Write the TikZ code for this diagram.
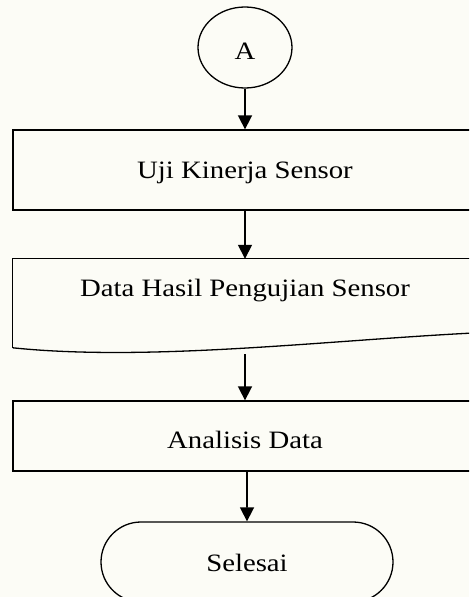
\documentclass[tikz,border=0pt]{standalone}
\usepackage{fontspec}
\setmainfont{Liberation Serif}
\usepackage{graphicx}
\usetikzlibrary{arrows.meta,shapes.geometric,shapes.misc}
\definecolor{bgc}{RGB}{252,252,246}
\newcommand{\sx}[1]{\scalebox{1.15}[1]{#1}}
\begin{document}
\begin{tikzpicture}[x=1pt,y=-1pt,
  lbl/.style={font=\fontsize{25}{30}\selectfont, text=black},
  tpos/.style={text height=#1, text depth=0pt},
  shp/.style={draw, line width=1.3pt, inner sep=0pt},
  proc/.style={shp, rectangle, minimum width=464pt},
  arr/.style={-{Triangle[length=14pt,width=14pt]}, line width=1.6pt},
]
\useasboundingbox (0,0) rectangle (469,597);
\fill[bgc] (0,0) rectangle (469,597);
\clip (0,0) rectangle (469,597);

\node[shp, ellipse, minimum width=94pt, minimum height=81pt, lbl, tpos=24pt] (A) at (245,47.5) {\sx{A}};
\node[proc, minimum height=80pt, lbl, tpos=17pt] (uji) at (245,170) {\sx{Uji Kinerja Sensor}};
\node[rectangle, inner sep=0pt, minimum width=464pt, minimum height=58pt, lbl, tpos=17pt] (doc) at (245,288) {\sx{Data Hasil Pengujian Sensor}};
\draw[line width=1.3pt] (doc.north west) ++(0,89) coordinate (dl)
  -- (doc.north west) -- (doc.north east) -- ++(0,74) coordinate (dr);
\draw[line width=1.3pt] (dl) .. controls (150,362) and (330,340) .. (dr);
\coordinate (docb) at (245,354);
\node[proc, minimum height=70pt, lbl, tpos=25pt] (ana) at (245,436) {\sx{Analisis Data}};
\node[shp, rounded rectangle, minimum width=292pt, minimum height=80pt, lbl, tpos=19pt] (end) at (247,562) {\sx{Selesai}};

\draw[arr] (A) -- (uji);
\draw[arr] (uji) -- (doc);
\draw[arr] (docb) -- (ana);
\draw[arr] (ana.south -| end) -- (end);
\end{tikzpicture}
\end{document}
